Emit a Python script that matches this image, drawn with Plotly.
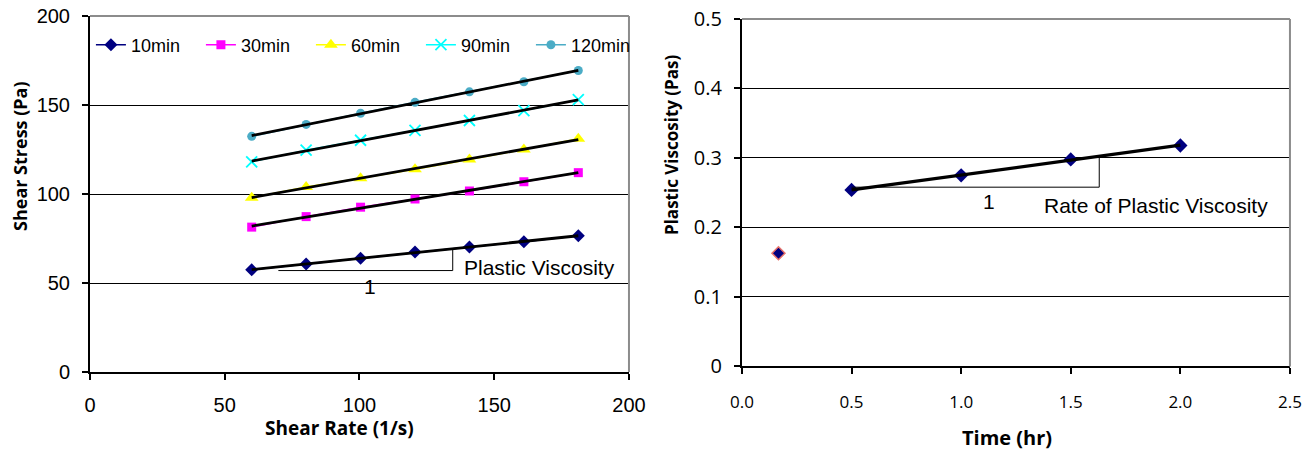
import numpy as np
import plotly.graph_objects as go

# ---------------- data ----------------
shear_rate = [60.0, 80.2, 100.4, 120.6, 140.8, 161.0, 181.2]
stress_10 = [57.4, 60.7, 63.9, 67.4, 70.3, 73.2, 76.5]
stress_30 = [81.4, 87.3, 92.6, 97.2, 101.7, 106.9, 112.0]
stress_60 = [97.9, 103.9, 108.9, 113.9, 119.4, 125.0, 131.1]
stress_90 = [118.1, 124.6, 130.2, 135.7, 141.3, 146.9, 153.0]
stress_120 = [132.4, 139.1, 145.4, 151.5, 157.4, 163.1, 169.4]
series_names = ["10min", "30min", "60min", "90min", "120min"]

time_hr = [0.1667, 0.5, 1.0, 1.5, 2.0]
plastic_visc = [0.163, 0.254, 0.275, 0.298, 0.318]

ARIAL = "Arial, Liberation Sans, sans-serif"
CAL = "Open Sans, sans-serif"

fig = go.Figure()

styles = [
    dict(color="#000080", symbol="diamond", size=10),
    dict(color="#FF00FF", symbol="square", size=9),
    dict(color="#FFFF00", symbol="triangle-up", size=12),
    dict(color="#00FFFF", symbol="x-thin", size=11),
    dict(color="#4BACC6", symbol="circle", size=9),
]
all_stress = [stress_10, stress_30, stress_60, stress_90, stress_120]

for name, ys, st in zip(series_names, all_stress, styles):
    marker = dict(color=st["color"], symbol=st["symbol"], size=st["size"])
    if st["symbol"] == "x-thin":
        marker["line"] = dict(color=st["color"], width=1.8)
    fig.add_trace(go.Scatter(
        x=shear_rate, y=ys, mode="lines+markers", name=name,
        line=dict(color=st["color"], width=1.5), marker=marker,
        xaxis="x", yaxis="y"))

# linear trendlines (Excel style)
for ys in all_stress:
    k, b = np.polyfit(shear_rate, ys, 1)
    xs = [shear_rate[0], shear_rate[-1]]
    fig.add_trace(go.Scatter(
        x=xs, y=[k * v + b for v in xs], mode="lines", showlegend=False,
        line=dict(color="black", width=2.8), hoverinfo="skip",
        xaxis="x", yaxis="y"))

# right chart
fig.add_trace(go.Scatter(
    x=time_hr[:1], y=plastic_visc[:1], mode="markers", showlegend=False,
    marker=dict(symbol="diamond", size=10, color="#000080",
                line=dict(color="#E8736C", width=1.5)),
    xaxis="x2", yaxis="y2"))
fig.add_trace(go.Scatter(
    x=time_hr[1:], y=plastic_visc[1:], mode="markers", showlegend=False,
    marker=dict(symbol="diamond", size=11, color="#000080"),
    xaxis="x2", yaxis="y2"))
k2, b2 = np.polyfit(time_hr[1:], plastic_visc[1:], 1)
xs2 = [time_hr[1], time_hr[-1]]
fig.add_trace(go.Scatter(
    x=xs2, y=[k2 * v + b2 for v in xs2], mode="lines", showlegend=False,
    line=dict(color="black", width=3.2), hoverinfo="skip",
    xaxis="x2", yaxis="y2"))

shapes = []
# borders (gray top/right)
for xr, yr in (("x", "y"), ("x2", "y2")):
    shapes.append(dict(type="line", xref=f"{xr} domain", yref=f"{yr} domain",
                       x0=0, x1=1, y0=1, y1=1, line=dict(color="#8C8C8C", width=2)))
    shapes.append(dict(type="line", xref=f"{xr} domain", yref=f"{yr} domain",
                       x0=1, x1=1, y0=0, y1=1, line=dict(color="#8C8C8C", width=2)))
# slope triangles
shapes += [
    dict(type="line", xref="x", yref="y", x0=69.9, x1=134.6, y0=57.0, y1=57.0,
         line=dict(color="black", width=1)),
    dict(type="line", xref="x", yref="y", x0=134.6, x1=134.6, y0=57.0, y1=68.6,
         line=dict(color="black", width=1)),
    dict(type="line", xref="x2", yref="y2", x0=0.5, x1=1.63, y0=0.258, y1=0.258,
         line=dict(color="black", width=1)),
    dict(type="line", xref="x2", yref="y2", x0=1.63, x1=1.63, y0=0.258, y1=0.301,
         line=dict(color="black", width=1)),
]

annotations = [
    dict(text="Plastic Viscosity", x=138.0, y=59.0, xref="x", yref="y",
         xanchor="left", yanchor="middle", showarrow=False,
         font=dict(family=ARIAL, size=21, color="black")),
    dict(text="1", x=103.9, y=47.8, xref="x", yref="y",
         xanchor="center", yanchor="middle", showarrow=False,
         font=dict(family=ARIAL, size=21, color="black")),
    dict(text="Rate of Plastic Viscosity", x=1.369, y=0.232, xref="x2", yref="y2",
         xanchor="left", yanchor="middle", showarrow=False,
         font=dict(family=ARIAL, size=21, color="black")),
    dict(text="1", x=1.125, y=0.237, xref="x2", yref="y2",
         xanchor="center", yanchor="middle", showarrow=False,
         font=dict(family=ARIAL, size=21, color="black")),
    # axis titles
    dict(text="<b>Shear Stress (Pa)</b>", x=20 / 1312, y=1 - 156 / 450,
         xref="paper", yref="paper", textangle=-90, showarrow=False,
         xanchor="center", yanchor="middle",
         font=dict(family=CAL, size=18, color="black")),
    dict(text="<b>Shear Rate (1/s)</b>", x=339 / 1312, y=1 - 428 / 450,
         xref="paper", yref="paper", showarrow=False,
         xanchor="center", yanchor="middle",
         font=dict(family=CAL, size=19, color="black")),
    dict(text="<b>Plastic Viscosity (Pas)</b>", x=672 / 1312, y=1 - 145 / 450,
         xref="paper", yref="paper", textangle=-90, showarrow=False,
         xanchor="center", yanchor="middle",
         font=dict(family=CAL, size=17, color="black")),
    dict(text="<b>Time (hr)</b>", x=1007 / 1312, y=1 - 437 / 450,
         xref="paper", yref="paper", showarrow=False,
         xanchor="center", yanchor="middle",
         font=dict(family=CAL, size=20, color="black")),
]

axis_common = dict(showline=True, linecolor="black", linewidth=2,
                   ticks="outside", ticklen=6, tickcolor="black", tickwidth=1.5,
                   zeroline=False, automargin=False)

fig.update_layout(
    width=1312, height=450, margin=dict(l=0, r=0, t=0, b=0),
    paper_bgcolor="white", plot_bgcolor="white",
    shapes=shapes, annotations=annotations,
    legend=dict(orientation="h", x=0.0693, xanchor="left", y=0.9, yanchor="middle",
                bgcolor="rgba(0,0,0,0)", font=dict(family=ARIAL, size=18, color="black"),
                entrywidth=65, tracegroupgap=0),
    xaxis=dict(domain=[0.0686, 0.4794], range=[0, 200], dtick=50, showgrid=False,
               tickfont=dict(family=ARIAL, size=20, color="black"),
               ticklabelstandoff=8,
               anchor="y", **axis_common),
    yaxis=dict(domain=[0.1733, 0.9644], range=[0, 200], dtick=50, showgrid=True,
               gridcolor="black", gridwidth=1,
               tickfont=dict(family=ARIAL, size=20, color="black"),
               ticklabelstandoff=8,
               anchor="x", **axis_common),
    xaxis2=dict(domain=[0.5655, 0.9832], range=[0, 2.5], dtick=0.5, tickformat=".1f",
                showgrid=False,
                tickfont=dict(family=CAL, size=17, color="black"),
                ticklabelstandoff=13,
                anchor="y2", **axis_common),
    yaxis2=dict(domain=[0.1856, 0.9578], range=[0, 0.5], dtick=0.1, showgrid=True,
                gridcolor="black", gridwidth=1,
                tickvals=[0, 0.1, 0.2, 0.3, 0.4, 0.5],
                ticktext=["0", "0.1", "0.2", "0.3", "0.4", "0.5"],
                tickfont=dict(family=CAL, size=20, color="black"),
                ticklabelstandoff=8,
                anchor="x2", **axis_common),
)

fig.write_html("out.html")
